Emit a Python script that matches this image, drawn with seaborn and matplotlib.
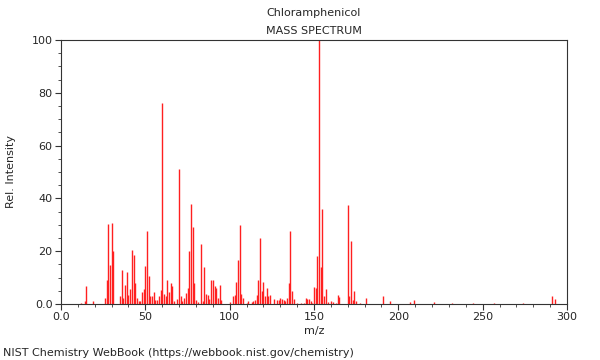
import matplotlib
matplotlib.use("Agg")
import matplotlib.pyplot as plt
from matplotlib.ticker import MultipleLocator, FuncFormatter
import seaborn as sns
import pandas as pd

title = "Chloramphenicol"
subtitle = "MASS SPECTRUM"
xlabel = "m/z"
ylabel = "Rel. Intensity"
footer = "NIST Chemistry WebBook (https://webbook.nist.gov/chemistry)"

mz = [12, 14, 15, 19, 26, 27, 28, 29, 30, 31, 35, 36, 37, 38, 39, 40, 41, 42, 43, 44,
      45, 46, 47, 48, 49, 50, 51, 52, 53, 54, 55, 56, 57, 58, 59, 60, 61, 62, 63, 64,
      65, 66, 67, 69, 70, 71, 72, 73, 74, 75, 76, 77, 78, 79, 80, 81, 83, 84, 85, 86,
      87, 88, 89, 90, 91, 92, 93, 94, 95, 100, 102, 103, 104, 105, 106, 107, 108, 110, 111, 113,
      114, 115, 116, 117, 118, 119, 120, 121, 122, 123, 124, 126, 128, 129, 130, 131, 132, 133, 134, 135,
      136, 137, 138, 140, 142, 144, 145, 146, 147, 148, 149, 150, 151, 152, 153, 154, 155, 156, 157, 158,
      160, 161, 163, 164, 165, 170, 171, 172, 173, 174, 175, 177, 181, 191, 195, 207, 209, 221, 232, 244,
      257, 274, 291, 293]
intensity = [0.5, 1.3, 7.0, 1.3, 2.3, 9.2, 30.2, 14.9, 30.7, 20.0, 3.2, 13.0, 2.3, 7.3, 12.2, 3.5, 5.6, 20.6, 18.6, 8.1,
             2.3, 1.0, 1.0, 4.7, 5.5, 14.3, 27.6, 10.7, 3.2, 3.2, 4.6, 1.4, 1.4, 3.0, 5.3, 76.3, 3.9, 3.2, 9.0, 4.7,
             8.1, 6.9, 1.3, 1.9, 51.2, 3.2, 1.3, 2.3, 4.2, 6.2, 20.2, 37.9, 29.0, 8.0, 1.5, 0.8, 22.7, 1.0, 14.1, 3.9,
             3.4, 1.9, 9.1, 9.1, 7.0, 6.0, 2.3, 7.3, 1.6, 0.6, 2.9, 3.4, 8.5, 16.7, 30.0, 3.8, 2.1, 0.4, 1.3, 0.6,
             1.0, 1.4, 3.4, 9.2, 25.1, 5.0, 8.2, 3.2, 5.9, 3.2, 3.5, 1.9, 1.5, 1.5, 2.4, 1.9, 1.5, 1.3, 2.3, 8.0,
             27.8, 5.0, 1.7, 0.3, 0.4, 0.5, 2.4, 2.0, 2.0, 1.0, 0.5, 6.6, 5.9, 18.3, 100.0, 13.9, 35.8, 2.9, 5.7, 0.6,
             1.0, 0.6, 0.5, 3.5, 2.8, 37.5, 2.9, 23.7, 1.6, 5.0, 1.3, 0.3, 2.3, 2.9, 1.0, 0.6, 1.6, 0.6, 0.3, 0.3,
             0.3, 0.5, 2.9, 1.8]

df = pd.DataFrame({"mz": mz, "intensity": intensity})

sns.set_theme(style="ticks")
plt.rcParams["font.family"] = ["DejaVu Sans"]

fig = plt.figure(figsize=(6, 3.6), dpi=100)
ax = fig.add_axes([0.1017, 0.1556, 0.8433, 0.7333])

ax.vlines(df["mz"], 0, df["intensity"], color="#ff2020", linewidth=1.0)

ax.set_xlim(0, 300)
ax.set_ylim(0, 100)
ax.xaxis.set_major_locator(MultipleLocator(50))
ax.xaxis.set_minor_locator(MultipleLocator(10))
ax.yaxis.set_major_locator(MultipleLocator(20))
ax.yaxis.set_minor_locator(MultipleLocator(5))
fmt = FuncFormatter(lambda v, p: "0.0" if abs(v) < 1e-9 else f"{v:.0f}")
ax.xaxis.set_major_formatter(fmt)
ax.yaxis.set_major_formatter(fmt)
ax.tick_params(which="major", length=4, width=0.8, labelsize=8, color="#333333", pad=2)
ax.tick_params(which="minor", length=2, width=0.6, color="#333333")
for s in ax.spines.values():
    s.set_color("#333333")
    s.set_linewidth(0.8)

ax.set_xlabel(xlabel, fontsize=8, labelpad=3)
ax.set_ylabel(ylabel, fontsize=8, labelpad=11)

fig.text(0.523, 0.963, title, ha="center", va="center", fontsize=8)
fig.text(0.523, 0.915, subtitle, ha="center", va="center", fontsize=8)
fig.text(0.005, 0.02, footer, ha="left", va="center", fontsize=8)

fig.savefig("out.png", dpi=100)
